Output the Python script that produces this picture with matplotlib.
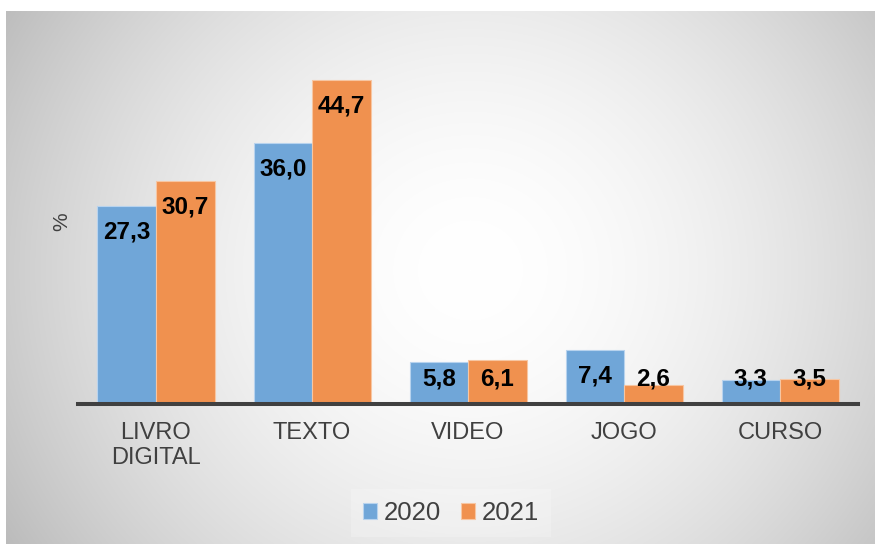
import numpy as np
import matplotlib.pyplot as plt
from matplotlib.patches import Patch

plt.rcParams['font.family'] = ['Liberation Sans', 'DejaVu Sans']

categories = ['LIVRO\nDIGITAL', 'TEXTO', 'VIDEO', 'JOGO', 'CURSO']
series_names = ['2020', '2021']
values_2020 = [27.3, 36.0, 5.8, 7.4, 3.3]
values_2021 = [30.7, 44.7, 6.1, 2.6, 3.5]

blue = '#70A6D8'
orange = '#F0914F'
text_gray = '#404040'

W, H = 875, 544
fig = plt.figure(figsize=(W / 100, H / 100), dpi=100)
fig.patch.set_facecolor('white')

# gray radial gradient panel behind the chart
bg = fig.add_axes([6 / W, 0, (W - 6) / W, (H - 11) / H], zorder=-1)
yy, xx = np.mgrid[11:H, 6:W]
r = np.hypot(xx - 470, (yy - 270) * 1.05)
shade = 255 - 62 * np.clip(r / 520, 0, 1.1) ** 1.8
shade = np.clip(shade, 0, 255) / 255
bg.imshow(np.dstack([shade] * 3), aspect='auto', interpolation='bilinear')
bg.axis('off')

ax = fig.add_axes([78 / W, (H - 404) / H, 780 / W, 364 / H])
ax.set_facecolor('none')

x = np.arange(len(categories))
w = 0.375
ax.bar(x - w / 2, values_2020, w, color=blue, edgecolor='#B8D3EE', linewidth=0.8, zorder=2)
ax.bar(x + w / 2, values_2021, w, color=orange, edgecolor='#F7C6A2', linewidth=0.8, zorder=2)

# labels inside end, kept above the axis line for short bars
for xs, vals in [(x - w / 2, values_2020), (x + w / 2, values_2021)]:
    for xi, v in zip(xs, vals):
        ax.text(xi, max(v - 3.6, 3.45), f'{v:.1f}'.replace('.', ','),
                ha='center', va='center', fontsize=17.5, fontweight='bold',
                color='black', zorder=3)

ax.set_xlim(-0.5, len(categories) - 0.5)
ax.set_ylim(0, 50.2)
for s in ['top', 'right', 'left']:
    ax.spines[s].set_visible(False)
ax.spines['bottom'].set_color(text_gray)
ax.spines['bottom'].set_linewidth(2.9)
ax.spines['bottom'].set_zorder(4)
ax.set_yticks([])
ax.set_xticks(x)
ax.set_xticklabels(categories, fontsize=17, color=text_gray, linespacing=1.2)
ax.tick_params(axis='x', length=0, pad=13)

fig.text(62 / W, 1 - 222 / H, '%', rotation=90, ha='center', va='center',
         fontsize=15, color=text_gray)

handles = [Patch(facecolor=blue, edgecolor='#B8D3EE', linewidth=0.8),
           Patch(facecolor=orange, edgecolor='#F7C6A2', linewidth=0.8)]
leg = fig.legend(handles, series_names, loc='center',
                 bbox_to_anchor=(451 / W, 1 - 513 / H), ncol=2, fontsize=18.5,
                 handlelength=0.55, handleheight=0.55, handletextpad=0.25,
                 columnspacing=0.8, frameon=True, fancybox=False,
                 borderpad=0.45)
leg.get_frame().set_facecolor('white')
leg.get_frame().set_alpha(0.22)
leg.get_frame().set_edgecolor('none')
for t in leg.get_texts():
    t.set_color(text_gray)

fig.savefig('out.png', dpi=100)
